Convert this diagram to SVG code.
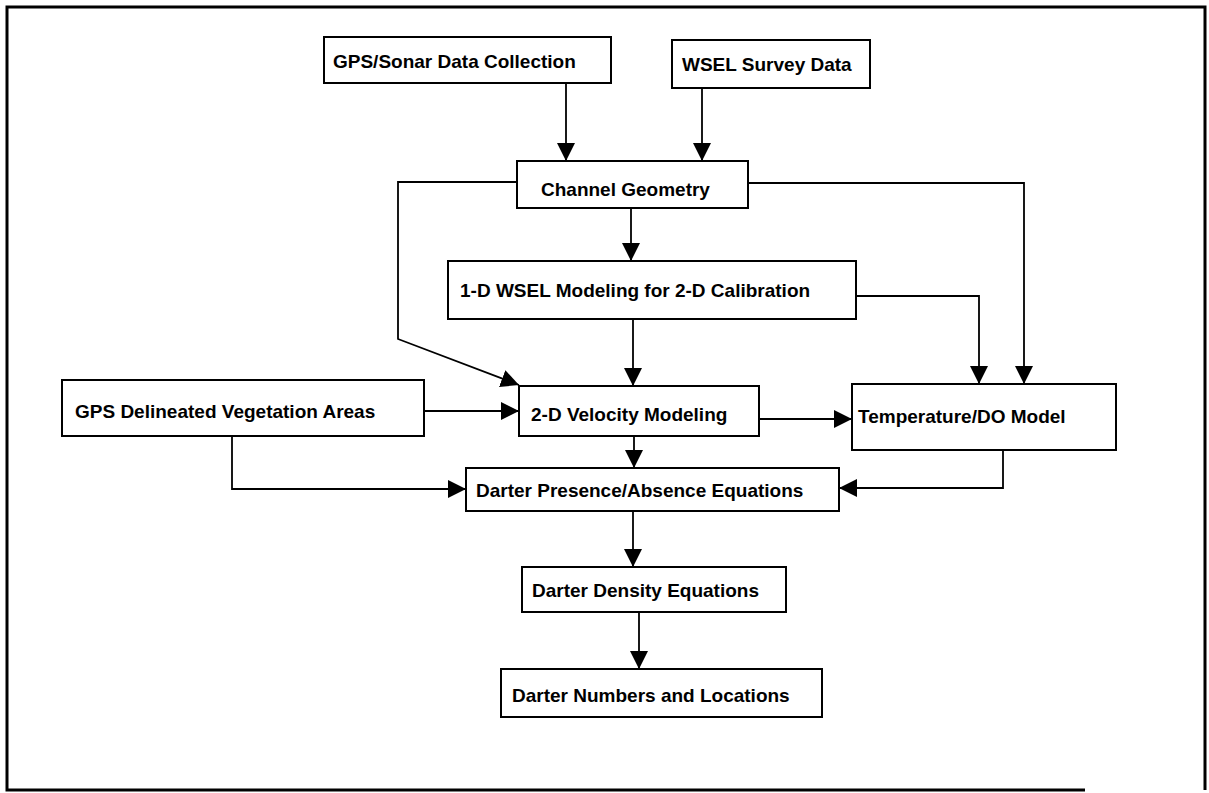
<svg xmlns="http://www.w3.org/2000/svg" width="1209" height="793" viewBox="0 0 1209 793">
<style>
.box{fill:#fff;stroke:#000;stroke-width:2}
.t{font-family:"Liberation Sans",Arial,sans-serif;font-weight:bold;font-size:19px;fill:#000}
.c{fill:none;stroke:#000;stroke-width:1.8;marker-end:url(#ah)}
</style>
<defs>
<marker id="ah" markerUnits="userSpaceOnUse" markerWidth="18" markerHeight="18" refX="18" refY="9" orient="auto">
<path d="M0,0 L18,9 L0,18 Z" fill="#000"/>
</marker>
</defs>
<rect width="1209" height="793" fill="#fff"/>
<path d="M1085 790 H7 V7 H1205 V790" fill="none" stroke="#000" stroke-width="3"/>
<g id="connectors">
<path class="c" d="M566 83 V161"/>
<path class="c" d="M702 88 V161"/>
<path class="c" d="M631 208 V261"/>
<path class="c" d="M517 182 H398 V339 L519 385"/>
<path class="c" d="M748 183 H1024 V384"/>
<path class="c" d="M856 296 H979 V384"/>
<path class="c" d="M633 319 V386"/>
<path class="c" d="M424 411 H519"/>
<path class="c" d="M759 419 H852"/>
<path class="c" d="M634 436 V468"/>
<path class="c" d="M232 436 V489 H466"/>
<path class="c" d="M1003 450 V488 H839"/>
<path class="c" d="M633 511 V567"/>
<path class="c" d="M639 612 V669"/>
</g>
<g id="gps-sonar"><rect class="box" x="324" y="37" width="287" height="46"/><text class="t" x="333" y="68">GPS/Sonar Data Collection</text></g>
<g id="wsel-survey"><rect class="box" x="672" y="40" width="198" height="48"/><text class="t" x="682" y="71">WSEL Survey Data</text></g>
<g id="channel-geometry"><rect class="box" x="517" y="161" width="231" height="47"/><text class="t" x="541" y="196">Channel Geometry</text></g>
<g id="wsel-1d"><rect class="box" x="448" y="261" width="408" height="58"/><text class="t" x="460" y="297">1-D WSEL Modeling for 2-D Calibration</text></g>
<g id="gps-vegetation"><rect class="box" x="62" y="380" width="362" height="56"/><text class="t" x="75" y="418">GPS Delineated Vegetation Areas</text></g>
<g id="velocity-2d"><rect class="box" x="519" y="386" width="240" height="50"/><text class="t" x="531" y="421">2-D Velocity Modeling</text></g>
<g id="temperature-do"><rect class="box" x="852" y="384" width="264" height="66"/><text class="t" x="858" y="423">Temperature/DO Model</text></g>
<g id="presence-absence"><rect class="box" x="466" y="468" width="373" height="43"/><text class="t" x="476" y="497">Darter Presence/Absence Equations</text></g>
<g id="density"><rect class="box" x="522" y="567" width="264" height="45"/><text class="t" x="532" y="597">Darter Density Equations</text></g>
<g id="numbers-locations"><rect class="box" x="501" y="669" width="321" height="48"/><text class="t" x="512" y="702">Darter Numbers and Locations</text></g>
</svg>
